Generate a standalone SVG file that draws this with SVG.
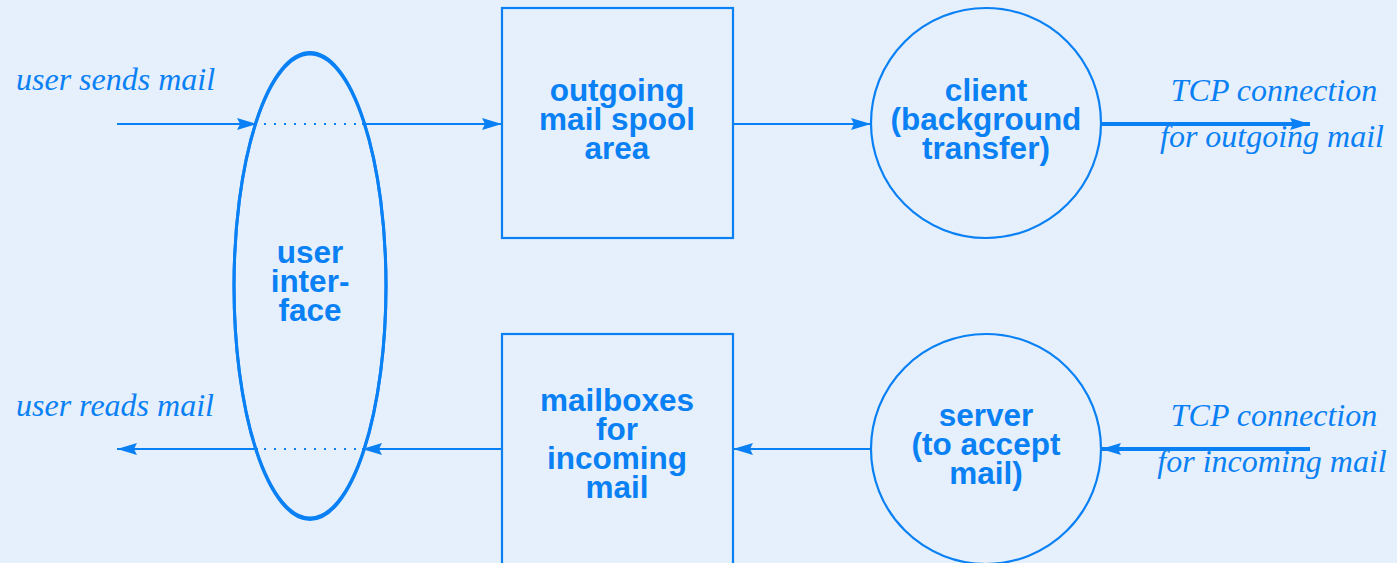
<svg xmlns="http://www.w3.org/2000/svg" width="1397" height="563" viewBox="0 0 1397 563">
<defs>
<style>
.s{fill:none;stroke:#0a80f5;stroke-width:2.2}
.t{font-family:"Liberation Sans",Arial,sans-serif;font-weight:bold;font-size:31.5px;fill:#0a80f5;text-anchor:middle}
.i{font-family:"Liberation Serif","Times New Roman",serif;font-style:italic;font-size:32px;fill:#0a80f5}
.c{stroke:#0a80f5;stroke-width:2.2;fill:none}
.k{stroke:#0a80f5;stroke-width:4;fill:none}
.d{stroke:#0a80f5;stroke-width:2;stroke-dasharray:2 8;fill:none}
</style>
<marker id="b" viewBox="0 0 20 12" refX="20" refY="6" markerWidth="20" markerHeight="12" markerUnits="userSpaceOnUse" orient="auto">
<path d="M0,0 L20,6 L0,12 L3,6 Z" fill="#0a80f5"/>
</marker>
</defs>
<rect width="1397" height="563" fill="#e6f0fc"/>
<g id="connectors">
<line class="c" x1="117" y1="124" x2="257" y2="124" marker-end="url(#b)"/>
<line class="d" x1="264" y1="124" x2="358" y2="124"/>
<line class="c" x1="362" y1="124" x2="502" y2="124" marker-end="url(#b)"/>
<line class="c" x1="733" y1="124" x2="871" y2="124" marker-end="url(#b)"/>
<line class="k" x1="1101" y1="124" x2="1310" y2="124" marker-end="url(#b)"/>
<line class="k" x1="1310" y1="449" x2="1101" y2="449" marker-end="url(#b)"/>
<line class="c" x1="871" y1="449" x2="733" y2="449" marker-end="url(#b)"/>
<line class="c" x1="502" y1="449" x2="362" y2="449" marker-end="url(#b)"/>
<line class="d" x1="264" y1="449" x2="358" y2="449"/>
<line class="c" x1="258" y1="449" x2="117" y2="449" marker-end="url(#b)"/>
</g>
<g id="ui">
<ellipse cx="310" cy="286" rx="76" ry="232" fill="none" stroke="#0a80f5" stroke-width="3"/>
<ellipse cx="310" cy="286" rx="76" ry="233.5" fill="none" stroke="#0a80f5" stroke-width="3"/>
<text class="t"><tspan x="310" y="263">user</tspan><tspan x="310" y="292">inter-</tspan><tspan x="310" y="321">face</tspan></text>
</g>
<g id="spool">
<rect class="s" x="502" y="8" width="231" height="230"/>
<text class="t"><tspan x="617" y="101">outgoing</tspan><tspan x="617" y="130">mail spool</tspan><tspan x="617" y="159">area</tspan></text>
</g>
<g id="mailboxes">
<rect class="s" x="502" y="334" width="231" height="240"/>
<text class="t"><tspan x="617" y="411">mailboxes</tspan><tspan x="617" y="440">for</tspan><tspan x="617" y="469">incoming</tspan><tspan x="617" y="498">mail</tspan></text>
</g>
<g id="client">
<circle class="s" cx="986" cy="123" r="115"/>
<text class="t"><tspan x="986" y="101">client</tspan><tspan x="986" y="130">(background</tspan><tspan x="986" y="159">transfer)</tspan></text>
</g>
<g id="server">
<circle class="s" cx="986" cy="449" r="115"/>
<text class="t"><tspan x="986" y="426">server</tspan><tspan x="986" y="455">(to accept</tspan><tspan x="986" y="484">mail)</tspan></text>
</g>
<g id="labels">
<text class="i" x="16" y="90">user sends mail</text>
<text class="i" x="16" y="416">user reads mail</text>
<text class="i" x="1274" y="101" text-anchor="middle">TCP connection</text>
<text class="i" x="1272" y="147" text-anchor="middle">for outgoing mail</text>
<text class="i" x="1274" y="426" text-anchor="middle">TCP connection</text>
<text class="i" x="1272" y="472" text-anchor="middle">for incoming mail</text>
</g>
</svg>
